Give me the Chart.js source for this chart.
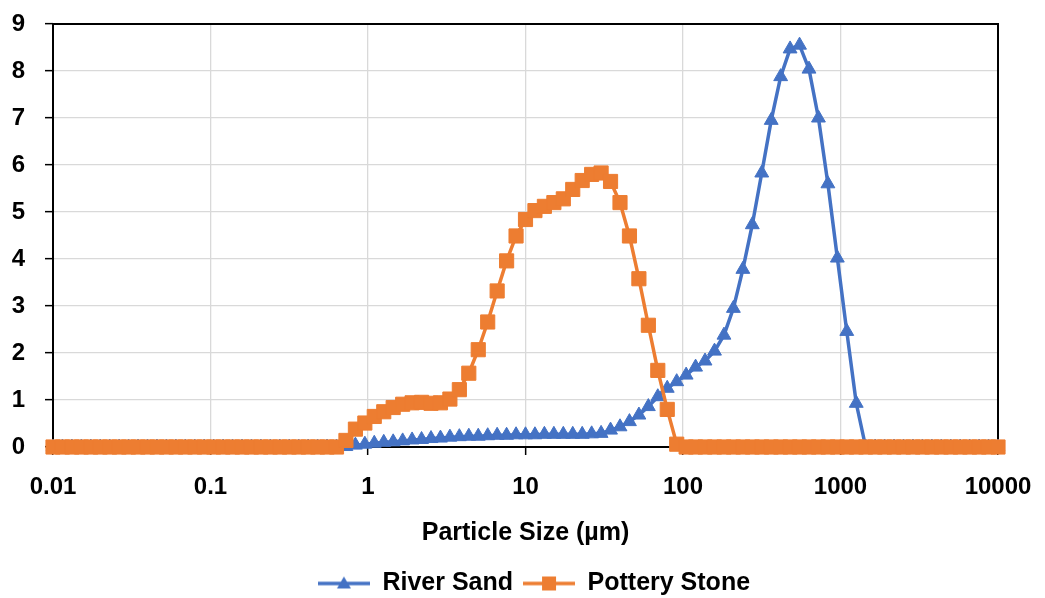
<!DOCTYPE html>
<html>
<head>
<meta charset="utf-8">
<script src="https://cdn.jsdelivr.net/npm/chart.js@4.4.1/dist/chart.umd.min.js"></script>
<style>
    body {
        margin: 0;
        background: #ffffff;
    }

    #chartBox {
        width: 1045px;
        height: 598px;
    }
</style>
</head>
<body>
<div id="chartBox">
    <canvas id="sizeChart"></canvas>
</div>
<script>

// particle size classes (um), 0.01 - 10000
const particleSizes = [
    0.01, 0.01148, 0.01318, 0.01514, 0.01738, 0.01995, 0.02291, 0.0263, 0.0302, 0.03467,
    0.03981, 0.04571, 0.05248, 0.06026, 0.06918, 0.07943, 0.0912, 0.1047, 0.1202, 0.138,
    0.1585, 0.182, 0.2089, 0.2399, 0.2754, 0.3162, 0.3631, 0.4169, 0.4786, 0.5495,
    0.631, 0.7244, 0.8318, 0.955, 1.096, 1.259, 1.445, 1.66, 1.905, 2.188,
    2.512, 2.884, 3.311, 3.802, 4.365, 5.012, 5.754, 6.607, 7.586, 8.71,
    10, 11.48, 13.18, 15.14, 17.38, 19.95, 22.91, 26.3, 30.2, 34.67,
    39.81, 45.71, 52.48, 60.26, 69.18, 79.43, 91.2, 104.7, 120.2, 138,
    158.5, 182, 208.9, 239.9, 275.4, 316.2, 363.1, 416.9, 478.6, 549.5,
    631, 724.4, 831.8, 955, 1096, 1259, 1445, 1660, 1905, 2188,
    2512, 2884, 3311, 3802, 4365, 5012, 5754, 6607, 7586, 8710,
    10000
];

const riverSand = [
    0, 0, 0, 0, 0, 0, 0, 0, 0, 0,
    0, 0, 0, 0, 0, 0, 0, 0, 0, 0,
    0, 0, 0, 0, 0, 0, 0, 0, 0, 0,
    0, 0.01, 0.04, 0.06, 0.08, 0.10, 0.11, 0.13, 0.15, 0.16,
    0.18, 0.19, 0.21, 0.22, 0.23, 0.23, 0.24, 0.25, 0.25, 0.26,
    0.26, 0.26, 0.27, 0.27, 0.27, 0.27, 0.27, 0.28, 0.29, 0.36,
    0.43, 0.54, 0.68, 0.86, 1.07, 1.25, 1.39, 1.53, 1.70, 1.83,
    2.04, 2.38, 2.95, 3.78, 4.73, 5.83, 6.95, 7.88, 8.47, 8.55,
    8.04, 7.00, 5.60, 4.02, 2.46, 0.93, 0, 0, 0, 0,
    0, 0, 0, 0, 0, 0, 0, 0, 0, 0,
    0
];

const potteryStone = [
    0, 0, 0, 0, 0, 0, 0, 0, 0, 0,
    0, 0, 0, 0, 0, 0, 0, 0, 0, 0,
    0, 0, 0, 0, 0, 0, 0, 0, 0, 0,
    0, 0.14, 0.38, 0.51, 0.65, 0.75, 0.84, 0.91, 0.94, 0.95,
    0.93, 0.94, 1.02, 1.22, 1.57, 2.07, 2.66, 3.32, 3.96, 4.49,
    4.84, 5.03, 5.12, 5.20, 5.28, 5.48, 5.67, 5.80, 5.83, 5.65,
    5.20, 4.49, 3.58, 2.59, 1.63, 0.80, 0.06, 0, 0, 0,
    0, 0, 0, 0, 0, 0, 0, 0, 0, 0,
    0, 0, 0, 0, 0, 0, 0, 0, 0, 0,
    0, 0, 0, 0, 0, 0, 0, 0, 0, 0,
    0
];

const xTickValues = [0.01, 0.1, 1, 10, 100, 1000, 10000];
const xTickLabels = ["0.01", "0.1", "1", "10", "100", "1000", "10000"];
const yTickValues = [0, 1, 2, 3, 4, 5, 6, 7, 8, 9];

const seriesNames = ["River Sand", "Pottery Stone"];

const blue = "#4472C4";
const orange = "#ED7D31";
const gridGrey = "#d9d9d9";

const tickFont = {
    size: 24,
    weight: "bold"
};

const textFont = {
    size: 25,
    weight: "bold"
};

const legendOffsetX = 35;
const legendOffsetY = 8;

Chart.defaults.font.family = "'Liberation Sans', Arial, sans-serif";
Chart.defaults.color = "#000000";

function toPoints(values) {

    return values.map(
        (value, i) => ({
            x: particleSizes[i],
            y: value
        })
    );

}

// little line + marker picture for each legend entry
function makeLegendSymbol(color, shape) {

    const symbol =
        document.createElement("canvas");

    symbol.width = 52;
    symbol.height = 22;

    const ctx = symbol.getContext("2d");

    ctx.strokeStyle = color;
    ctx.fillStyle = color;
    ctx.lineWidth = 3.5;

    ctx.beginPath();
    ctx.moveTo(0, 11);
    ctx.lineTo(52, 11);
    ctx.stroke();

    ctx.beginPath();

    if (shape === "triangle") {
        ctx.moveTo(26, 4);
        ctx.lineTo(33, 16);
        ctx.lineTo(19, 16);
    } else {
        ctx.rect(19, 4, 14, 14);
    }

    ctx.closePath();
    ctx.fill();

    return symbol;

}

const legendSymbols = [
    makeLegendSymbol(blue, "triangle"),
    makeLegendSymbol(orange, "rect")
];

const plotFrame = {

    id: "plotFrame",

    beforeDraw(chart) {

        const legend = chart.legend;

        legend.left = legendOffsetX;
        legend.right = chart.width - 47 + legendOffsetX;
        legend.top = chart.height - legend.height + legendOffsetY;
        legend.bottom = legend.top + legend.height;

    },

    beforeDatasetsDraw(chart) {

        const { ctx, chartArea } = chart;

        ctx.save();
        ctx.strokeStyle = "#000000";
        ctx.lineWidth = 2;
        ctx.strokeRect(
            chartArea.left,
            chartArea.top,
            chartArea.right - chartArea.left,
            chartArea.bottom - chartArea.top
        );
        ctx.restore();

    }

};

function renderChart() {

    const ctx =
        document.getElementById(
            "sizeChart"
        );

    new Chart(ctx, {

        type: "line",

        data: {

            datasets: [
                {
                    label: seriesNames[0],
                    data: toPoints(riverSand),
                    borderColor: blue,
                    backgroundColor: blue,
                    borderWidth: 3.5,
                    pointStyle: "triangle",
                    pointRadius: 8,
                    pointHoverRadius: 8,
                    pointBorderWidth: 1,
                    tension: 0,
                    clip: false,
                    order: 2
                },
                {
                    label: seriesNames[1],
                    data: toPoints(potteryStone),
                    borderColor: orange,
                    backgroundColor: orange,
                    borderWidth: 3.5,
                    pointStyle: "rect",
                    pointRadius: 10,
                    pointHoverRadius: 10,
                    pointBorderWidth: 1,
                    tension: 0,
                    clip: false,
                    order: 1
                }
            ]

        },

        options: {

            responsive: true,
            maintainAspectRatio: false,
            animation: false,

            layout: {
                padding: {
                    left: 0,
                    right: 47,
                    top: 24,
                    bottom: 0
                }
            },

            scales: {

                x: {
                    type: "logarithmic",
                    min: 0.01,
                    max: 10000,
                    afterBuildTicks: (scale) => {
                        scale.ticks = xTickValues.map(
                            value => ({ value: value })
                        );
                    },
                    afterFit: (scale) => {
                        scale.height = 106;
                        scale.paddingLeft = 0;
                        scale.paddingRight = 0;
                    },
                    ticks: {
                        autoSkip: false,
                        maxRotation: 0,
                        padding: 18,
                        color: "#000000",
                        font: tickFont,
                        callback: (value, index) => xTickLabels[index]
                    },
                    grid: {
                        color: gridGrey,
                        lineWidth: 1.3,
                        tickColor: "#000000",
                        tickLength: 8,
                        tickWidth: 1.5
                    },
                    border: { display: false },
                    title: {
                        display: true,
                        text: "Particle Size (µm)",
                        color: "#000000",
                        font: textFont,
                        padding: { top: 0, bottom: 5 }
                    }
                },

                y: {
                    min: 0,
                    max: 9,
                    afterBuildTicks: (scale) => {
                        scale.ticks = yTickValues.map(
                            value => ({ value: value })
                        );
                    },
                    afterFit: (scale) => {
                        scale.width = 53;
                        scale.paddingTop = 0;
                        scale.paddingBottom = 0;
                    },
                    ticks: {
                        padding: 20,
                        color: "#000000",
                        font: tickFont
                    },
                    grid: {
                        color: gridGrey,
                        lineWidth: 1.3,
                        tickColor: "#000000",
                        tickLength: 8,
                        tickWidth: 1.5
                    },
                    border: { display: false }
                }

            },

            plugins: {

                legend: {
                    position: "bottom",
                    labels: {
                        usePointStyle: true,
                        pointStyleWidth: 52,
                        boxHeight: 22,
                        padding: 10,
                        color: "#000000",
                        font: textFont,
                        sort: (a, b) => a.datasetIndex - b.datasetIndex,
                        generateLabels: (chart) => {
                            const items =
                                Chart.defaults.plugins.legend.labels.generateLabels(chart);
                            items.forEach(item => {
                                item.pointStyle = legendSymbols[item.datasetIndex];
                            });
                            return items;
                        }
                    }
                },

                tooltip: { enabled: false }

            }

        },

        plugins: [plotFrame]

    });

}

renderChart();

</script>
</body>
</html>
